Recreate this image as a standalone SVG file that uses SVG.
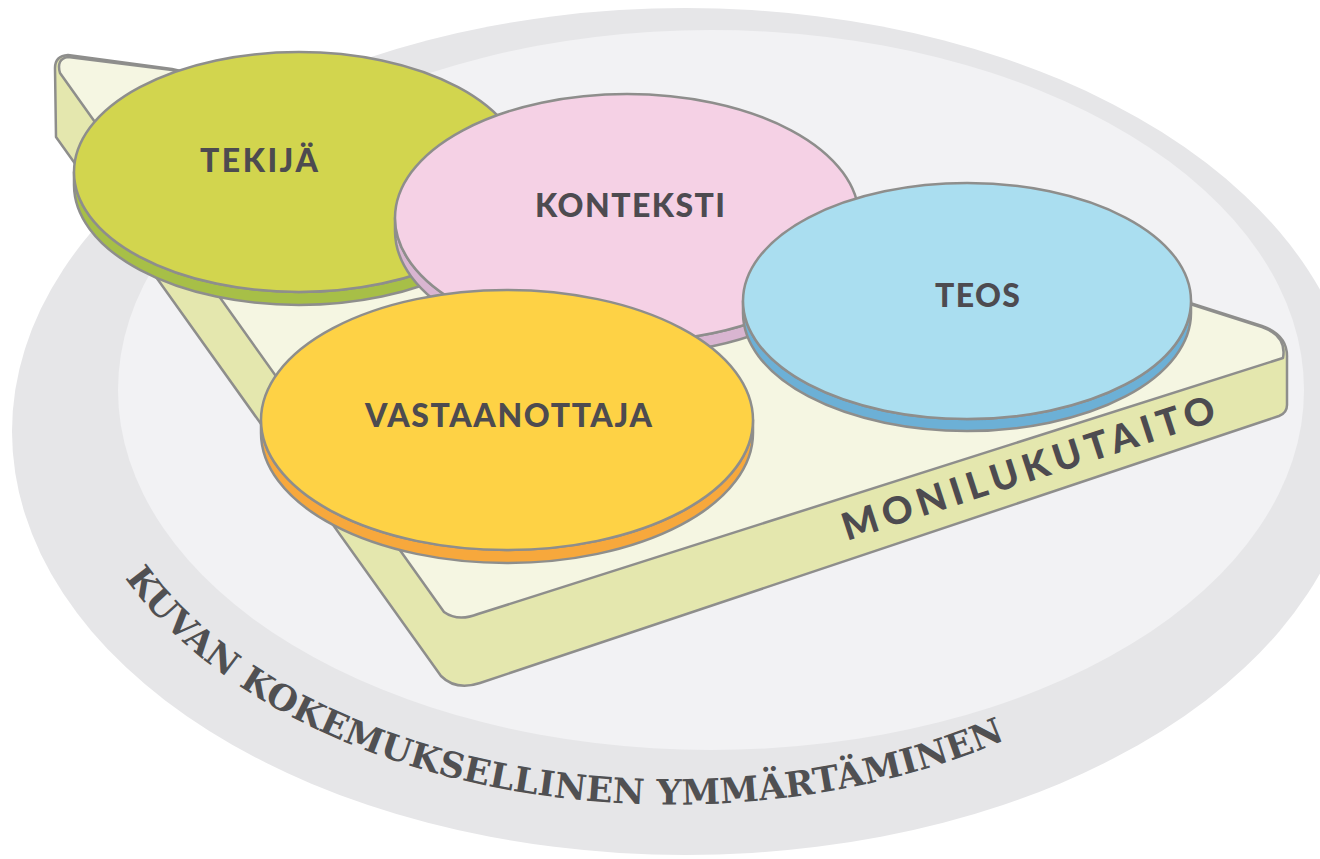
<svg xmlns="http://www.w3.org/2000/svg" width="1320" height="859" viewBox="0 0 1320 859">
<style>
.edge{stroke:#8e8e8c;stroke-width:2.5;stroke-linejoin:round}
.lbl{font-family:Lato,"Open Sans","Liberation Sans",sans-serif;font-weight:900;font-size:32px;fill:#4d4b50}
.big{font-size:38px}
.ring{font-family:"DejaVu Serif","Liberation Serif",serif;font-weight:700;font-size:35px;fill:#505052}
</style>
<defs>
<path id="arc" d="M 125,578 A 604 392 0 0 0 1014,736"/>
</defs>
<g id="background">
<rect width="1320" height="859" fill="#ffffff"/>
<ellipse cx="685.5" cy="431.5" rx="673.5" ry="423.5" fill="#e6e6e8"/>
<ellipse cx="711" cy="390" rx="593" ry="360" fill="#f2f2f4"/>
</g>
<g id="ring-label">
<text class="ring"><textPath href="#arc" textLength="955" lengthAdjust="spacing">KUVAN KOKEMUKSELLINEN YMMÄRTÄMINEN</textPath></text>
</g>
<g id="monilukutaito">
<path class="edge" fill="#e4e7ae" d="M 68,55 L 172,69 L 1190,303 L 1262,326 Q 1288,335 1287,358 L 1287,405 Q 1287,413 1279,416 L 480,683 Q 456,691 441,676 L 56,137 L 55,68 Q 55,56 68,55 Z"/>
<path class="edge" fill="#f5f6e2" d="M 60,73 Q 56,59 68,57 L 172,70 L 1190,304 L 1262,327 Q 1287,336 1283,358 L 478,614 Q 458,622 444,612 Z"/>
<text class="lbl big" transform="translate(847,541) rotate(-18)" x="0" y="0" textLength="390" lengthAdjust="spacing">MONILUKUTAITO</text>
</g>
<g id="connectors"></g>
<g id="tekija">
<path class="edge" fill="#a7bf47" d="M 74,172 L 74,185 A 225 120 0 0 0 524,185 L 524,172 A 225 120 0 0 1 74,172 Z"/>
<ellipse class="edge" cx="299" cy="172" rx="225" ry="120" fill="#d2d54e"/>
<text class="lbl" x="200" y="172" textLength="118" lengthAdjust="spacing">TEKIJÄ</text>
</g>
<g id="konteksti">
<path class="edge" fill="#d9b5d1" d="M 395,218 L 395,231 A 232 124 0 0 0 859,231 L 859,218 A 232 124 0 0 1 395,218 Z"/>
<ellipse class="edge" cx="627" cy="218" rx="232" ry="124" fill="#f5d1e5"/>
<text class="lbl" x="535" y="217" textLength="190" lengthAdjust="spacing">KONTEKSTI</text>
</g>
<g id="teos">
<path class="edge" fill="#6cb0d6" d="M 743,301 L 743,313 A 224 118 0 0 0 1191,313 L 1191,301 A 224 118 0 0 1 743,301 Z"/>
<ellipse class="edge" cx="967" cy="301" rx="224" ry="118" fill="#aadef0"/>
<text class="lbl" x="935" y="307" textLength="85" lengthAdjust="spacing">TEOS</text>
</g>
<g id="vastaanottaja">
<path class="edge" fill="#f7a83c" d="M 261,420 L 261,433 A 246 130 0 0 0 753,433 L 753,420 A 246 130 0 0 1 261,420 Z"/>
<ellipse class="edge" cx="507" cy="420" rx="246" ry="130" fill="#fed245"/>
<text class="lbl" x="365" y="427" textLength="287" lengthAdjust="spacing">VASTAANOTTAJA</text>
</g>
</svg>
